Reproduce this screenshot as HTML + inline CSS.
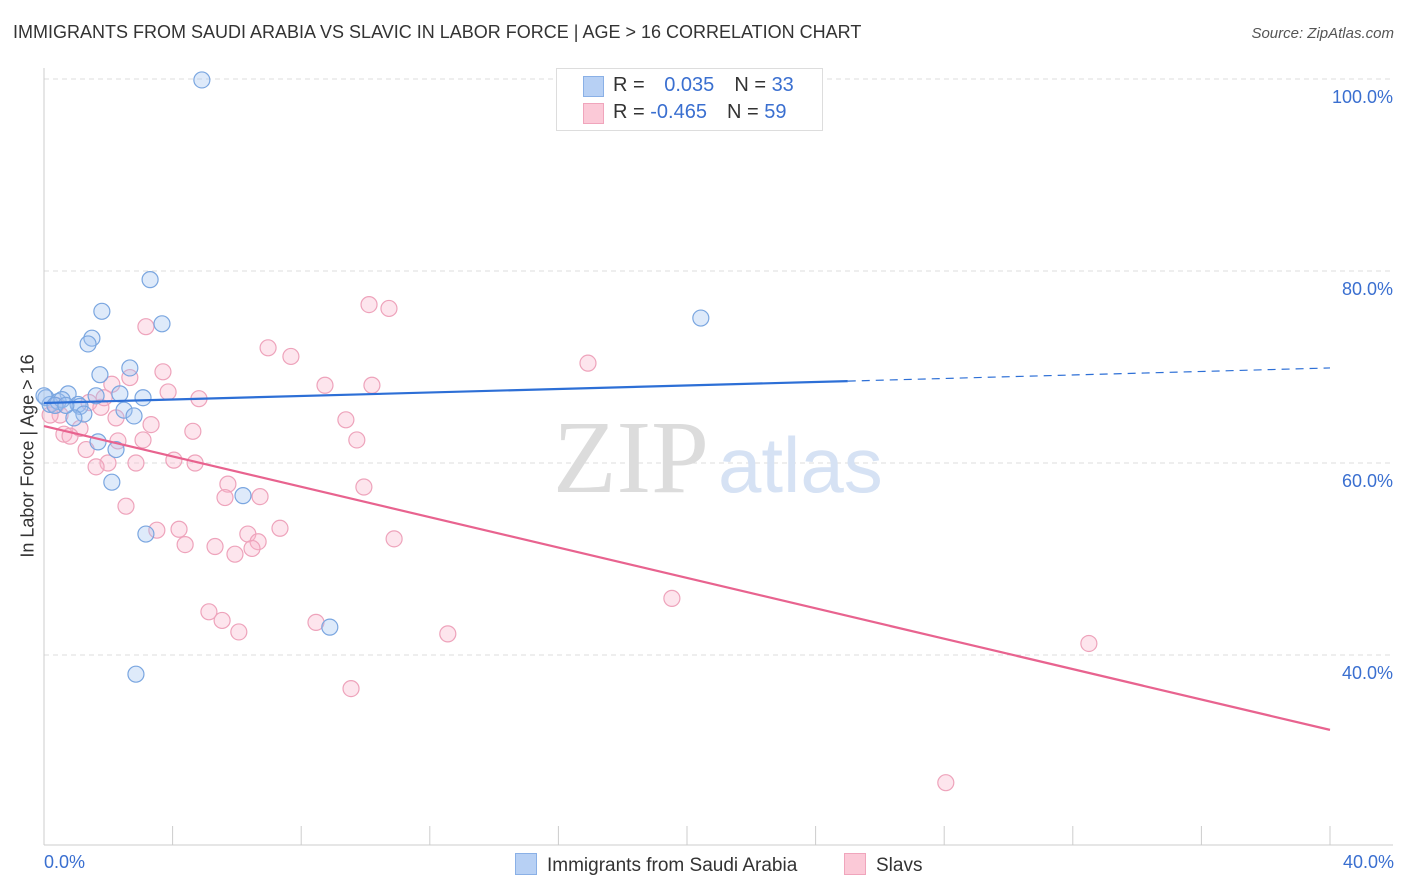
<!DOCTYPE html>
<html><head><meta charset="utf-8">
<style>
body{margin:0;background:#fff;font-family:"Liberation Sans",sans-serif;}
#wrap{position:relative;width:1406px;height:892px;overflow:hidden;}
.t{position:absolute;white-space:nowrap;}
</style></head>
<body>
<div id="wrap">
<div class="t" style="left:13px;top:22px;font-size:18px;color:#333;">IMMIGRANTS FROM SAUDI ARABIA VS SLAVIC IN LABOR FORCE | AGE &gt; 16 CORRELATION CHART</div>
<div class="t" style="right:12px;top:25px;font-size:15px;color:#555;font-style:italic;">Source: ZipAtlas.com</div>
<svg id="plot" width="1406" height="892" style="position:absolute;left:0;top:0"></svg>
</div>
<script>
const blueX=[4.91,3.30,1.80,3.67,1.49,1.37,2.67,1.74,20.43,0.75,1.62,2.36,3.08,0.06,0.19,0.44,0.56,1.06,1.12,2.49,1.24,2.80,0.93,1.68,2.24,2.11,6.19,3.17,8.89,2.86,0.0,0.34,0.68];
const blueY=[99.9,79.1,75.8,74.5,73.0,72.4,69.9,69.2,75.1,67.2,67.0,67.2,66.8,66.8,66.1,66.4,66.6,66.1,65.9,65.5,65.1,64.9,64.7,62.2,61.4,58.0,56.6,52.6,42.9,38.0,67.0,66.0,66.0];
const pinkX=[3.17,10.11,10.73,6.97,7.68,16.92,3.70,2.67,2.11,8.74,10.20,3.86,4.82,1.40,1.77,0.37,0.50,2.24,3.33,9.39,4.63,1.12,0.62,0.81,2.30,3.08,9.73,1.31,4.04,4.70,1.99,1.62,2.86,9.95,5.72,5.63,6.72,2.55,3.51,4.20,7.34,6.34,6.66,4.39,5.32,10.89,5.94,6.47,19.53,5.13,5.54,8.46,6.06,12.56,32.50,9.55,28.05,0.19,1.87];
const pinkY=[74.2,76.5,76.1,72.0,71.1,70.4,69.5,68.9,68.2,68.1,68.1,67.4,66.7,66.3,65.8,66.0,65.0,64.7,64.0,64.5,63.3,63.6,63.0,62.8,62.3,62.4,62.4,61.4,60.3,60.0,60.0,59.6,60.0,57.5,57.8,56.4,56.5,55.5,53.0,53.1,53.2,52.6,51.8,51.5,51.3,52.1,50.5,51.1,45.9,44.5,43.6,43.4,42.4,42.2,41.2,36.5,26.7,65.0,66.8];
const yTicks=[100,80,60,40];
const yTickLabels=["100.0%","80.0%","60.0%","40.0%"];
const blueTrend=[66.25,69.9];
const pinkTrend=[63.85,32.2];
const blueSolidEnd=25;

const NS="http://www.w3.org/2000/svg";
const svg=document.getElementById('plot');
const X=v=>44+v/40*1286;
const Y=v=>79+(100-v)*9.6;
function mk(tag,attrs){const e=document.createElementNS(NS,tag);for(const k in attrs)e.setAttribute(k,attrs[k]);svg.appendChild(e);return e;}

yTicks.forEach((v,i)=>{
 const g=mk('line',{x1:44,x2:1393,y1:Y(v),y2:Y(v),stroke:'#ddd','stroke-dasharray':'5,4'});
 
 
 const t=mk('text',{x:1393,y:Y(v)+24,'text-anchor':'end','font-size':18,fill:'#3a6fd0','font-family':'Liberation Sans, sans-serif'});
 t.textContent=yTickLabels[i];
 
 
});
let a=mk('line',{x1:44,x2:44,y1:68,y2:845,stroke:'#ccc'});


a=mk('line',{x1:44,x2:1393,y1:845,y2:845,stroke:'#ccc'});


for(let i=0;i<=10;i++){
 const tk=mk('line',{x1:X(i*4),x2:X(i*4),y1:826,y2:845,stroke:'#ccc'});
 
 
}
let w=mk('text',{x:553,y:492,'font-size':104,fill:'#dcdcdc','font-family':'Liberation Serif, serif'});w.textContent='ZIP';


w=mk('text',{x:718,y:492,'font-size':78,fill:'#d6e2f4','font-family':'Liberation Sans, sans-serif'});w.textContent='atlas';



pinkX.forEach((x,i)=>{
 const c=mk('circle',{cx:X(x),cy:Y(pinkY[i]),r:8,fill:'rgba(248,180,202,0.35)',stroke:'#eea3bb','stroke-width':1.2});
 
 
});
blueX.forEach((x,i)=>{
 const c=mk('circle',{cx:X(x),cy:Y(blueY[i]),r:8,fill:'rgba(160,196,240,0.35)',stroke:'#7aa6e0','stroke-width':1.2});
 
 
});
const bAt=x=>blueTrend[0]+(blueTrend[1]-blueTrend[0])*x/40;
let l=mk('line',{x1:X(0),y1:Y(bAt(0)),x2:X(blueSolidEnd),y2:Y(bAt(blueSolidEnd)),stroke:'#2d6fd6','stroke-width':2.2});


l=mk('line',{x1:X(blueSolidEnd),y1:Y(bAt(blueSolidEnd)),x2:X(40),y2:Y(bAt(40)),stroke:'#2d6fd6','stroke-width':1.2,'stroke-dasharray':'8,6'});


l=mk('line',{x1:X(0),y1:Y(pinkTrend[0]),x2:X(40),y2:Y(pinkTrend[1]),stroke:'#e8638f','stroke-width':2.2});


</script>
<div class="t" style="left:28px;top:456px;font-size:18px;color:#333;transform:translate(-50%,-50%) rotate(-90deg);">In Labor Force | Age &gt; 16</div>
<div class="t" style="left:44px;top:852px;font-size:18px;color:#3a6fd0;">0.0%</div>
<div class="t" style="right:12px;top:852px;font-size:18px;color:#3a6fd0;">40.0%</div>
<div style="position:absolute;left:556px;top:68px;width:265px;height:61px;border:1px solid #ddd;background:#fff;font-size:20px;">
 <div style="position:absolute;left:26px;top:7px;width:19px;height:19px;background:#b7d0f4;border:1px solid #8ab0e6;"></div>
 <div class="t" style="left:56px;top:5px;color:#333;">R = <span style="color:#3a6fd0;margin-left:14px">0.035</span><span style="color:#333;margin-left:20px">N = </span><span style="color:#3a6fd0">33</span></div>
 <div style="position:absolute;left:26px;top:34px;width:19px;height:19px;background:#fbc9d7;border:1px solid #f0a5bc;"></div>
 <div class="t" style="left:56px;top:32px;color:#333;">R = <span style="color:#3a6fd0;">-0.465</span><span style="color:#333;margin-left:20px">N = </span><span style="color:#3a6fd0">59</span></div>
</div>
<div style="position:absolute;left:515px;top:853px;font-size:19px;color:#333;">
 <span style="display:inline-block;width:20px;height:20px;background:#b7d0f4;border:1px solid #8ab0e6;vertical-align:-4px;margin-right:10px;"></span>Immigrants from Saudi Arabia</div>
<div style="position:absolute;left:844px;top:853px;font-size:19px;color:#333;">
 <span style="display:inline-block;width:20px;height:20px;background:#fbc9d7;border:1px solid #f0a5bc;vertical-align:-4px;margin-right:10px;"></span>Slavs</div>
</body></html>
